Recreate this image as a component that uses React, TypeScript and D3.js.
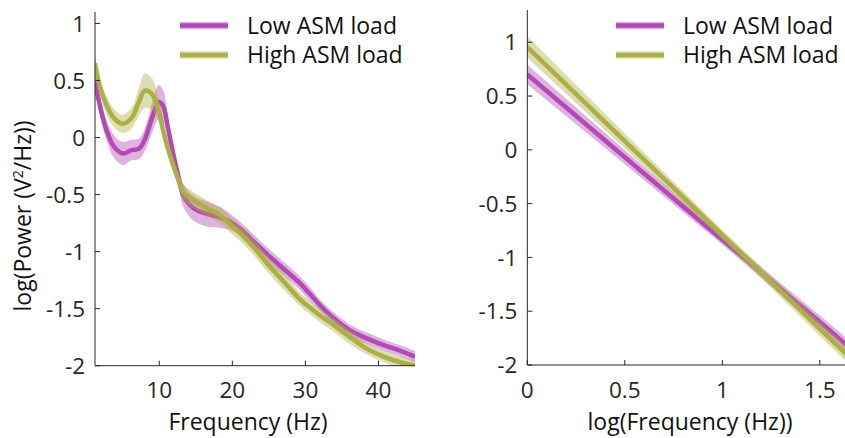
import React from "react";
import * as d3 from "d3";

const W = 845;
const H = 438;

// ---------- Left panel data (Frequency in Hz vs log power) ----------
const freqs = [1.2, 1.9, 2.8, 3.8, 5, 6.2, 7.2, 8, 9, 9.9, 10.5, 11.2, 11.9, 12.6, 13.3, 14.7, 16.5, 18.3, 19.7, 21.1, 22.9, 24.7, 27, 29.3, 30.6, 32, 33.8, 36.1, 38.4, 40.7, 43, 45];
const lowMean = [0.49, 0.27, 0.06, -0.08, -0.14, -0.11, -0.1, -0.02, 0.17, 0.31, 0.28, 0.08, -0.14, -0.34, -0.51, -0.62, -0.67, -0.7, -0.74, -0.8, -0.91, -1.02, -1.15, -1.28, -1.37, -1.47, -1.58, -1.69, -1.76, -1.82, -1.87, -1.92];
const lowSE = [0.07, 0.08, 0.09, 0.1, 0.1, 0.09, 0.09, 0.1, 0.13, 0.15, 0.14, 0.1, 0.08, 0.08, 0.1, 0.11, 0.11, 0.09, 0.07, 0.06, 0.06, 0.06, 0.06, 0.06, 0.06, 0.05, 0.05, 0.05, 0.05, 0.05, 0.05, 0.05];
const highMean = [0.65, 0.44, 0.28, 0.17, 0.12, 0.17, 0.31, 0.41, 0.38, 0.24, 0.07, -0.1, -0.24, -0.37, -0.48, -0.55, -0.62, -0.68, -0.76, -0.84, -0.96, -1.1, -1.26, -1.42, -1.49, -1.56, -1.64, -1.75, -1.85, -1.92, -1.97, -2.0];
const highSE = [0.07, 0.07, 0.08, 0.08, 0.08, 0.09, 0.12, 0.15, 0.14, 0.1, 0.08, 0.07, 0.06, 0.06, 0.07, 0.07, 0.07, 0.07, 0.07, 0.07, 0.07, 0.07, 0.07, 0.06, 0.06, 0.06, 0.06, 0.06, 0.05, 0.05, 0.05, 0.05];

// ---------- Right panel data (log frequency vs log power, fitted lines) ----------
const logFreqs = [0, 0.5, 1, 1.5, 1.653];
const lowFit = [0.7, -0.068, -0.835, -1.6, -1.84];
const lowFitSE = [0.09, 0.065, 0.045, 0.06, 0.065];
const highFit = [0.955, 0.082, -0.791, -1.664, -1.93];
const highFitSE = [0.1, 0.07, 0.045, 0.065, 0.07];

// ---------- Axis ticks ----------
const leftXTicks = [10, 20, 30, 40];
const leftYTicks = [-2, -1.5, -1, -0.5, 0, 0.5, 1];
const rightXTicks = [0, 0.5, 1, 1.5];
const rightYTicks = [-2, -1.5, -1, -0.5, 0, 0.5, 1];
const seriesNames = ["Low ASM load", "High ASM load"];

const LOW_COLOR = "#B349B6";
const HIGH_COLOR = "#ACAF43";
const FONT = "'Open Sans', 'Liberation Sans', Arial, sans-serif";
const AX = "#262626";
const TICK_FS = 22.5;
const LABEL_FS = 23;

const fmt = (v: number) => (v === 0 ? "0" : String(v));

type PanelProps = {
  id: string;
  xs: number[];
  series: { mean: number[]; se: number[]; color: string }[];
  xDomain: [number, number];
  yDomain: [number, number];
  xRange: [number, number];
  yRange: [number, number];
  xTicks: number[];
  yTicks: number[];
  xLabel: string;
  xLabelX: number;
  hasYLabel?: boolean;
  legendX: number;
  curve: d3.CurveFactory;
};

function Panel(p: PanelProps) {
  const x = d3.scaleLinear().domain(p.xDomain).range(p.xRange);
  const y = d3.scaleLinear().domain(p.yDomain).range(p.yRange);
  const idx = p.xs.map((_, i) => i);
  const [x0, x1] = p.xRange;
  const [yb, yt] = p.yRange;
  const clipW = Math.min(x1, W) - x0;
  return (
    <g>
      <defs>
        <clipPath id={p.id}>
          <rect x={x0} y={yt} width={clipW} height={yb - yt} />
        </clipPath>
      </defs>
      <g clipPath={`url(#${p.id})`}>
        {p.series.map((s, k) => {
          const area = d3
            .area<number>()
            .x((i) => x(p.xs[i]))
            .y0((i) => y(s.mean[i] - s.se[i]))
            .y1((i) => y(s.mean[i] + s.se[i]))
            .curve(p.curve);
          const line = d3
            .line<number>()
            .x((i) => x(p.xs[i]))
            .y((i) => y(s.mean[i]))
            .curve(p.curve);
          return (
            <g key={k}>
              <path d={area(idx) || ""} fill={s.color} fillOpacity={0.42} stroke="none" />
              <path d={line(idx) || ""} fill="none" stroke={s.color} strokeWidth={4.5} strokeLinejoin="round" />
            </g>
          );
        })}
      </g>
      {/* axes */}
      <line x1={x0} x2={x0} y1={yt} y2={yb} stroke={AX} strokeWidth={1} />
      <line x1={x0} x2={x1} y1={yb} y2={yb} stroke={AX} strokeWidth={1} />
      {p.yTicks.map((t) => (
        <g key={"y" + t}>
          <line x1={x0} x2={x0 + 5} y1={y(t)} y2={y(t)} stroke={AX} />
          <text x={x0 - 10} y={y(t)} dy="0.36em" textAnchor="end" fontSize={TICK_FS} fill={AX} fontFamily={FONT}>
            {fmt(t)}
          </text>
        </g>
      ))}
      {p.xTicks.map((t) => (
        <g key={"x" + t}>
          <line x1={x(t)} x2={x(t)} y1={yb} y2={yb - 5} stroke={AX} />
          <text x={x(t)} y={398} textAnchor="middle" fontSize={TICK_FS} fill={AX} fontFamily={FONT}>
            {fmt(t)}
          </text>
        </g>
      ))}
      <text x={p.xLabelX} y={430} textAnchor="middle" fontSize={LABEL_FS} fill="#111" fontFamily={FONT}>
        {p.xLabel}
      </text>
      {p.hasYLabel && (
        <text
          transform={`translate(31,216) rotate(-90)`}
          textAnchor="middle"
          fontSize={LABEL_FS}
          fill="#111"
          fontFamily={FONT}
        >
          log(Power (V<tspan dy="-8" fontSize={14}>2</tspan>
          <tspan dy="8">/Hz))</tspan>
        </text>
      )}
      {/* legend */}
      {p.series.map((s, k) => {
        const ly = 25.5 + k * 29.5;
        return (
          <g key={"lg" + k}>
            <line x1={p.legendX} x2={p.legendX + 48} y1={ly} y2={ly} stroke={s.color} strokeOpacity={0.42} strokeWidth={7.5} />
            <line x1={p.legendX} x2={p.legendX + 48} y1={ly} y2={ly} stroke={s.color} strokeWidth={4.5} />
            <text x={p.legendX + 67} y={ly + 8} fontSize={LABEL_FS} fill="#111" fontFamily={FONT}>
              {seriesNames[k]}
            </text>
          </g>
        );
      })}
    </g>
  );
}

export default function App() {
  return (
    <svg width={W} height={H} style={{ position: "absolute", left: 0, top: 0, background: "#fff" }}>
      <rect width={W} height={H} fill="#fff" />
      <Panel
        id="clipL"
        xs={freqs}
        series={[
          { mean: lowMean, se: lowSE, color: LOW_COLOR },
          { mean: highMean, se: highSE, color: HIGH_COLOR },
        ]}
        xDomain={[1.2, 45]}
        yDomain={[-2, 1.1]}
        xRange={[95, 415]}
        yRange={[365.7, 12]}
        xTicks={leftXTicks}
        yTicks={leftYTicks}
        xLabel="Frequency (Hz)"
        xLabelX={248}
        hasYLabel
        legendX={180}
        curve={d3.curveCatmullRom.alpha(0.5)}
      />
      <Panel
        id="clipR"
        xs={logFreqs}
        series={[
          { mean: lowFit, se: lowFitSE, color: LOW_COLOR },
          { mean: highFit, se: highFitSE, color: HIGH_COLOR },
        ]}
        xDomain={[0, 1.653]}
        yDomain={[-2, 1.3]}
        xRange={[527.3, 849.7]}
        yRange={[365, 10]}
        xTicks={rightXTicks}
        yTicks={rightYTicks}
        xLabel="log(Frequency (Hz))"
        xLabelX={690}
        legendX={616}
        curve={d3.curveLinear}
      />
    </svg>
  );
}
